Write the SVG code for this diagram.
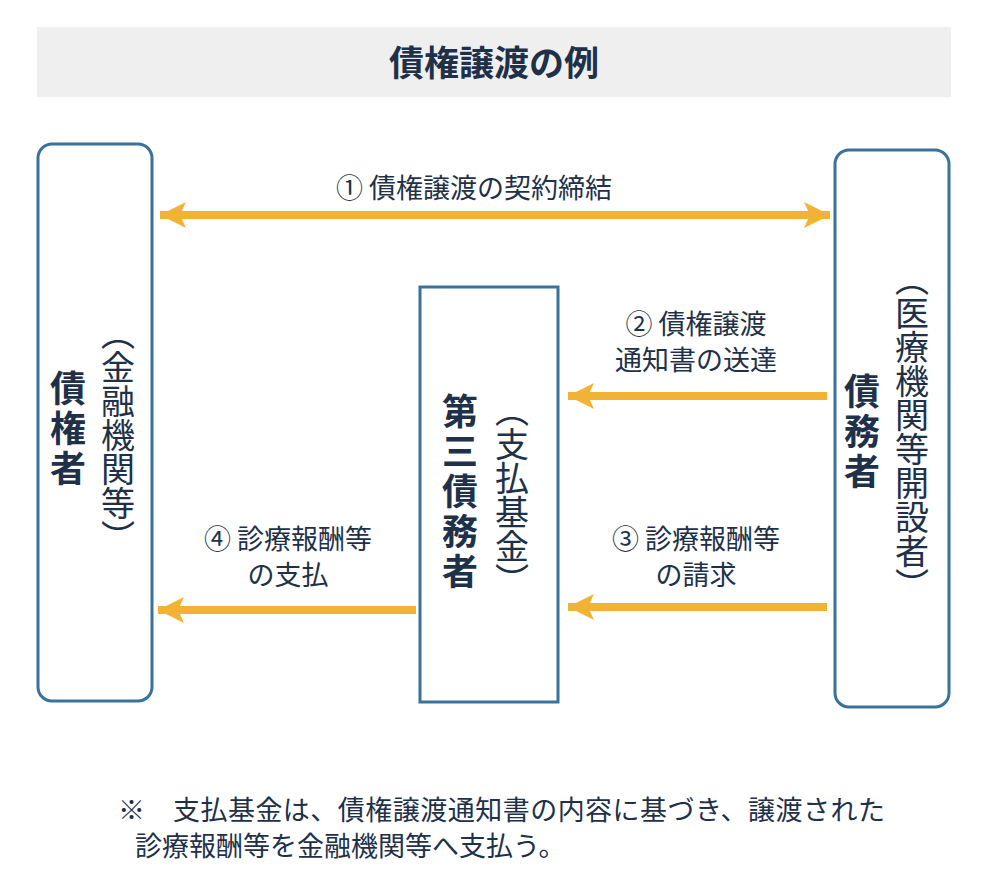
<svg xmlns="http://www.w3.org/2000/svg" width="1000" height="884" viewBox="0 0 1000 884">
<style>
text{font-family:"Noto Sans CJK JP",sans-serif;fill:#1e3148}
.box{fill:#fff;stroke:#3b729c;stroke-width:3}
.v{writing-mode:vertical-rl;font-size:34px}
.b{font-weight:bold;font-size:36px;letter-spacing:4px}
.l{font-size:27px}
.ar{stroke:#f2b233;stroke-width:8;fill:none}
</style>
<defs>
<marker id="h" markerUnits="userSpaceOnUse" markerWidth="30" markerHeight="30" refX="26" refY="13" orient="auto-start-reverse"><path d="M0,0 L26,13 L0,26 L6,13Z" fill="#f2b233"/></marker>
</defs>
<rect x="37" y="27" width="914" height="70" fill="#efefef"/>
<text x="494" y="76" text-anchor="middle" font-size="35" font-weight="bold">債権譲渡の例</text>
<g id="creditor"><rect class="box" x="38" y="144" width="114" height="557" rx="14"/>
<text class="v b" x="68" y="370">債権者</text>
<text class="v" x="118" y="316">（金融機関等）</text></g>
<g id="third"><rect class="box" x="420" y="287" width="138" height="415"/>
<text class="v b" x="460" y="393">第三債務者</text>
<text class="v" x="512" y="393">（支払基金）</text></g>
<g id="debtor"><rect class="box" x="835" y="150" width="114" height="557" rx="14"/>
<text class="v b" x="862" y="373">債務者</text>
<text class="v" x="912" y="262">（医療機関等開設者）</text></g>
<g id="connectors">
<line class="ar" x1="160" y1="215" x2="830" y2="215" marker-start="url(#h)" marker-end="url(#h)"/>
<line class="ar" x1="827" y1="396" x2="568" y2="396" marker-end="url(#h)"/>
<line class="ar" x1="827" y1="607" x2="568" y2="607" marker-end="url(#h)"/>
<line class="ar" x1="416" y1="610" x2="158" y2="610" marker-end="url(#h)"/>
</g>
<text class="l" x="474" y="198" text-anchor="middle">① 債権譲渡の契約締結</text>
<text class="l" x="696" y="334" text-anchor="middle">② 債権譲渡</text>
<text class="l" x="696" y="370" text-anchor="middle">通知書の送達</text>
<text class="l" x="696" y="549" text-anchor="middle">③ 診療報酬等</text>
<text class="l" x="696" y="585" text-anchor="middle">の請求</text>
<text class="l" x="288" y="549" text-anchor="middle">④ 診療報酬等</text>
<text class="l" x="288" y="585" text-anchor="middle">の支払</text>
<text class="l" x="118" y="820" textLength="767">※　支払基金は、債権譲渡通知書の内容に基づき、譲渡された</text>
<text class="l" x="135" y="856">診療報酬等を金融機関等へ支払う。</text>
</svg>
